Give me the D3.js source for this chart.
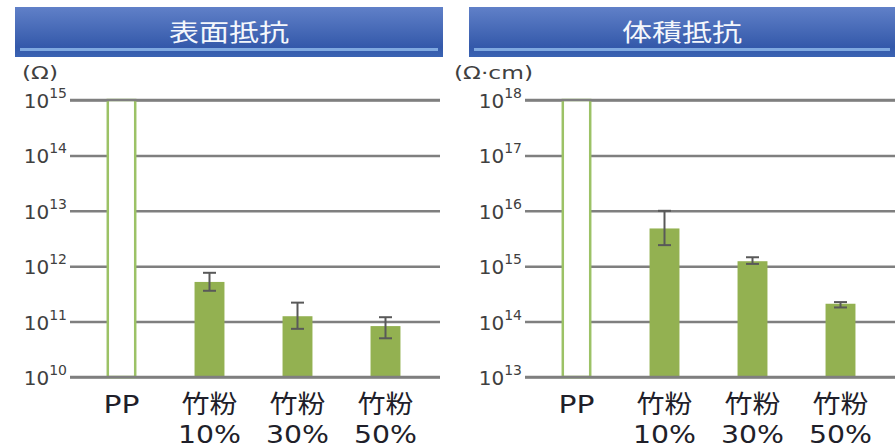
<!DOCTYPE html>
<html>
<head>
<meta charset="utf-8">
<script src="https://cdn.jsdelivr.net/npm/d3@7"></script>
<style>
  body { margin: 0; background: #fff; }
  svg { display: block; }
</style>
</head>
<body>
<svg id="svg1" width="895" height="448"></svg>
<script>
// data
var catTop = ["PP", "竹粉", "竹粉", "竹粉"];
var catBottom = ["", "10%", "30%", "50%"];

var surfaceValues = [1e15, 5.2e11, 1.25e11, 8.3e10];
var surfaceHigh = [null, 7.6e11, 2.2e11, 1.2e11];
var surfaceLow = [null, 3.6e11, 7.4e10, 5.0e10];
var surfaceTicks = [10, 11, 12, 13, 14, 15];

var volumeValues = [1e18, 4.8e15, 1.23e15, 2.1e14];
var volumeHigh = [null, 1.0e16, 1.45e15, 2.25e14];
var volumeLow = [null, 2.4e15, 1.1e15, 1.8e14];
var volumeTicks = [13, 14, 15, 16, 17, 18];

var svg = d3.select("#svg1");
var defs = svg.append("defs");
var grad = defs.append("linearGradient").attr("id", "titleGrad")
    .attr("x1", 0).attr("y1", 0).attr("x2", 0).attr("y2", 1);
grad.append("stop").attr("offset", "0%").attr("stop-color", "#6080c8");
grad.append("stop").attr("offset", "80%").attr("stop-color", "#3459aa");
grad.append("stop").attr("offset", "100%").attr("stop-color", "#3a63b3");

var fontLatin = "'DejaVu Sans', 'Noto Sans CJK JP', sans-serif";

function drawPanel(opt){
    var g = svg.append("g");

    // title bar
    g.append("rect")
        .attr("x", opt.barX).attr("y", 7)
        .attr("width", opt.barW).attr("height", 50)
        .attr("fill", "url(#titleGrad)");
    g.append("rect")
        .attr("x", opt.barX + 5).attr("y", 48)
        .attr("width", opt.barW - 10).attr("height", 3)
        .attr("fill", "#7fa9e0");
    g.append("text")
        .attr("x", opt.barX + opt.barW / 2).attr("y", 41)
        .attr("text-anchor", "middle")
        .attr("font-family", "'Noto Sans CJK JP', sans-serif")
        .attr("font-size", 24)
        .attr("fill", "#f4f7fc")
        .attr("textLength", 120)
        .attr("lengthAdjust", "spacingAndGlyphs")
        .text(opt.title);

    // unit
    g.append("text")
        .attr("x", opt.unitX).attr("y", 79)
        .attr("font-family", fontLatin)
        .attr("font-size", 17)
        .attr("fill", "#404040")
        .attr("textLength", opt.unitW)
        .attr("lengthAdjust", "spacingAndGlyphs")
        .text(opt.unit);

    var y = d3.scaleLog()
        .domain([Math.pow(10, opt.ticks[0]), Math.pow(10, opt.ticks[opt.ticks.length - 1])])
        .range([377, 100]);
    var x = d3.scaleBand()
        .domain(d3.range(opt.values.length))
        .range([opt.bandStart, opt.bandStart + 352])
        .paddingInner(0.66)
        .paddingOuter(0.33);

    var tickVals = opt.ticks.map(function(t){ return Math.pow(10, t); });

    // gridlines
    var grid = g.append("g")
        .attr("transform", "translate(" + opt.gridX1 + ",0)")
        .call(d3.axisLeft(y).tickValues(tickVals).tickSize(-(opt.gridX2 - opt.gridX1)).tickFormat(""));
    grid.select(".domain").remove();
    grid.selectAll("line").attr("stroke", "#7f7f7f").attr("stroke-width", 2.5);

    // tick labels 10^n
    var lab = g.selectAll(".tlab").data(opt.ticks).enter().append("text")
        .attr("class", "tlab")
        .attr("x", opt.gridX1 - 3)
        .attr("y", function(d){ return y(Math.pow(10, d)) + 8; })
        .attr("text-anchor", "end")
        .attr("font-family", fontLatin)
        .attr("fill", "#404040");
    lab.append("tspan").attr("font-size", 20).text("10");
    lab.append("tspan").attr("font-size", 14).attr("dy", -10).text(function(d){ return d; });

    // bars
    opt.values.forEach(function(v, i){
        if (i === 0) {
            g.append("rect")
                .attr("x", x(i) + 1.25).attr("y", y(v))
                .attr("width", x.bandwidth() - 2.5)
                .attr("height", y(Math.pow(10, opt.ticks[0])) - y(v))
                .attr("fill", "#fff")
                .attr("stroke", "#9cc266")
                .attr("stroke-width", 2.5);
        } else {
            g.append("rect")
                .attr("x", x(i)).attr("y", y(v))
                .attr("width", x.bandwidth())
                .attr("height", y(Math.pow(10, opt.ticks[0])) - y(v))
                .attr("fill", "#93b151");
        }
    });

    // top and bottom lines over the bars
    [tickVals[0], tickVals[tickVals.length - 1]].forEach(function(t){
        g.append("line")
            .attr("x1", opt.gridX1).attr("x2", opt.gridX2)
            .attr("y1", y(t)).attr("y2", y(t))
            .attr("stroke", "#7f7f7f").attr("stroke-width", 2.5);
    });

    // error bars
    opt.values.forEach(function(v, i){
        if (opt.high[i] == null) return;
        var cx = x(i) + x.bandwidth() / 2;
        var eb = g.append("g").attr("stroke", "#595959").attr("stroke-width", 2);
        eb.append("line").attr("x1", cx).attr("x2", cx).attr("y1", y(opt.high[i])).attr("y2", y(opt.low[i]));
        eb.append("line").attr("x1", cx - 6.5).attr("x2", cx + 6.5).attr("y1", y(opt.high[i])).attr("y2", y(opt.high[i]));
        eb.append("line").attr("x1", cx - 6.5).attr("x2", cx + 6.5).attr("y1", y(opt.low[i])).attr("y2", y(opt.low[i]));
    });

    // category labels
    opt.values.forEach(function(v, i){
        var cx = x(i) + x.bandwidth() / 2;
        g.append("text")
            .attr("x", cx).attr("y", 413)
            .attr("text-anchor", "middle")
            .attr("font-family", fontLatin)
            .attr("font-size", 25)
            .attr("fill", "#1f1f2a")
            .attr("textLength", i === 0 ? 36 : 56)
            .attr("lengthAdjust", "spacingAndGlyphs")
            .text(catTop[i]);
        if (catBottom[i]) {
            g.append("text")
                .attr("x", cx).attr("y", 443)
                .attr("text-anchor", "middle")
                .attr("font-family", fontLatin)
                .attr("font-size", 24)
                .attr("fill", "#1f1f2a")
                .attr("textLength", 63)
                .attr("lengthAdjust", "spacingAndGlyphs")
                .text(catBottom[i]);
        }
    });
}

drawPanel({
    title: "表面抵抗", unit: "(Ω)", unitX: 22, unitW: 36,
    barX: 15, barW: 428,
    gridX1: 70, gridX2: 440, bandStart: 77.5,
    ticks: surfaceTicks, values: surfaceValues, high: surfaceHigh, low: surfaceLow
});
drawPanel({
    title: "体積抵抗", unit: "(Ω·cm)", unitX: 454, unitW: 79,
    barX: 469, barW: 426,
    gridX1: 525, gridX2: 895, bandStart: 532.5,
    ticks: volumeTicks, values: volumeValues, high: volumeHigh, low: volumeLow
});
</script>
</body>
</html>
